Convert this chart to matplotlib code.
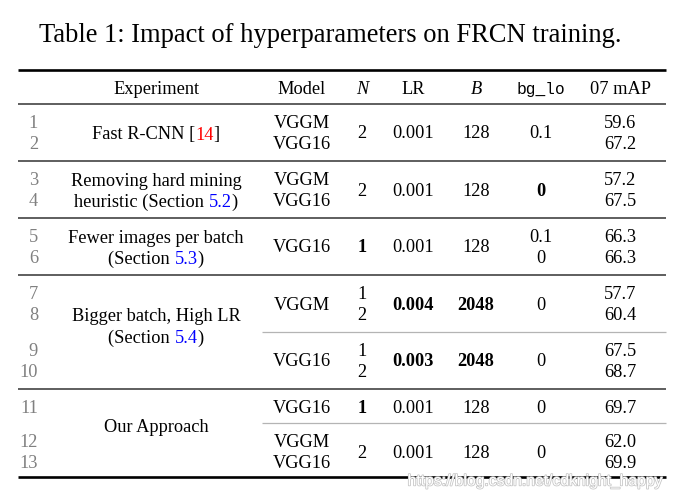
import matplotlib
matplotlib.use("Agg")
import matplotlib.pyplot as plt
import matplotlib.patheffects as pe

# table content
title = "Table 1: Impact of hyperparameters on FRCN training."
headers = ["Experiment", "Model", "N", "LR", "B", "bg_lo", "07 mAP"]
row_ids = [str(i) for i in range(1, 14)]

experiments = [
    ["Fast R-CNN [14]"],
    ["Removing hard mining", "heuristic (Section 5.2)"],
    ["Fewer images per batch", "(Section 5.3)"],
    ["Bigger batch, High LR", "(Section 5.4)"],
    ["Our Approach"],
]
refs = {"14": "#ff0000", "5.2": "#0000ff", "5.3": "#0000ff", "5.4": "#0000ff"}

# sub blocks (between rules); '*' marks bold
models = [["VGGM", "VGG16"], ["VGGM", "VGG16"], ["VGG16"], ["VGGM"], ["VGG16"], ["VGG16"], ["VGGM", "VGG16"]]
n_imgs = [["2"], ["2"], ["*1"], ["1", "2"], ["1", "2"], ["*1"], ["2"]]
lrs = [["0.001"], ["0.001"], ["0.001"], ["*0.004"], ["*0.003"], ["0.001"], ["0.001"]]
batch = [["128"], ["128"], ["128"], ["*2048"], ["*2048"], ["128"], ["128"]]
bg_lo = [["0.1"], ["*0"], ["0.1", "0"], ["0"], ["0"], ["0"], ["0"]]
mAP = [["59.6", "67.2"], ["57.2", "67.5"], ["66.3", "66.3"], ["57.7", "60.4"],
       ["67.5", "68.7"], ["69.7"], ["62.0", "69.9"]]
rows_per_block = [2, 2, 2, 2, 2, 1, 2]
exp_blocks = [[0], [1], [2], [3, 4], [5, 6]]  # which sub blocks each experiment spans
exp_shift = [1, 1, 1, -6, -8]  # multirow in the paper sits a bit high

W, H = 673, 497
fig = plt.figure(figsize=(W / 100, H / 100), dpi=100)
ax = fig.add_axes([0, 0, 1, 1])
ax.set_xlim(0, W)
ax.set_ylim(H, 0)
ax.axis("off")

serif = "Liberation Serif"
fs = 13.2
cap = 6  # half cap height in px, to put text on a baseline
col_x = [156, 302, 362, 413, 476, 541, 620]
x0, x1 = 18, 666

ax.text(330, 42, title, fontsize=19.1, family=serif, ha="center", va="baseline")

# rules
ax.plot([x0, x1], [70, 70], color="black", lw=1.9, solid_capstyle="butt")
ax.plot([x0, x1], [477, 477], color="black", lw=1.9, solid_capstyle="butt")

# header
for j, h in enumerate(headers):
    kw = dict(fontsize=fs, family=serif, ha="center", va="baseline")
    if h in ("N", "B"):
        kw["style"] = "italic"
    if h == "bg_lo":
        kw["family"] = "Liberation Mono"
        kw["fontsize"] = fs - 1.5
    ax.text(col_x[j], 88 + cap, h, **kw)

block_tops = [104]
for n in rows_per_block:
    block_tops.append(block_tops[-1] + (57 if n == 2 else 34))
partial = {4, 6}  # blocks whose top rule is partial
for b, top in enumerate(block_tops[:-1]):
    if b in partial:
        ax.plot([262, x1], [top, top], color="#b4b4b4", lw=0.9, solid_capstyle="butt")
    else:
        ax.plot([x0, x1], [top, top], color="#333333", lw=1.1, solid_capstyle="butt")

# row numbers
row_y = []
for b, top in enumerate(block_tops[:-1]):
    for r in range(rows_per_block[b]):
        row_y.append(top + 18 + 21 * r)
for rid, y in zip(row_ids, row_y):
    ax.text(38, y + cap, rid, fontsize=fs, family=serif, ha="right", va="baseline", color="#808080")

# value columns
for b, top in enumerate(block_tops[:-1]):
    ys = [top + 18 + 21 * r for r in range(rows_per_block[b])]
    mid = sum(ys) / len(ys)
    for j, col in enumerate([models, n_imgs, lrs, batch, bg_lo, mAP]):
        vals = col[b]
        pos = [mid] if len(vals) == 1 else ys
        for v, y in zip(vals, pos):
            bold = v.startswith("*")
            ax.text(col_x[j + 1], y + cap, v.lstrip("*"), fontsize=fs, family=serif,
                    ha="center", va="baseline", weight="bold" if bold else "normal")

# experiment names with coloured refs
fig.canvas.draw()
renderer = fig.canvas.get_renderer()


def split_refs(s):
    for k in refs:
        if k in s:
            a, c = s.split(k)
            return [(a, "black"), (k, refs[k]), (c, "black")]
    return [(s, "black")]


for e, lines in enumerate(experiments):
    bl = exp_blocks[e]
    y_top = block_tops[bl[0]]
    y_bot = block_tops[bl[-1] + 1]
    mid = (y_top + y_bot) / 2 + exp_shift[e]
    n = len(lines)
    for i, line in enumerate(lines):
        y = mid + (i - (n - 1) / 2) * 21.5
        parts = split_refs(line)
        widths = []
        for t, c in parts:
            tt = ax.text(0, 0, t, fontsize=fs, family=serif)
            widths.append(tt.get_window_extent(renderer).width)
            tt.remove()
        x = col_x[0] - sum(widths) / 2
        for (t, c), w in zip(parts, widths):
            ax.text(x, y + cap, t, fontsize=fs, family=serif, ha="left", va="baseline", color=c)
            x += w

ax.text(663, 481, "https://blog.csdn.net/cdknight_happy", fontsize=11.3,
        family="Liberation Sans", ha="right", va="center", color="white", zorder=5,
        path_effects=[pe.withStroke(linewidth=1.1, foreground="#c4c4c4")])

fig.savefig("out.png", dpi=100)
